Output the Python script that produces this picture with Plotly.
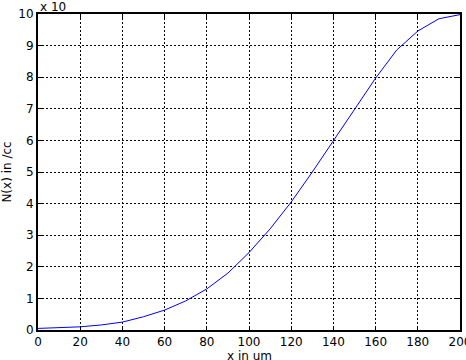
import plotly.graph_objects as go

x_um = [0, 10, 20, 30, 40, 50, 60, 70, 80, 90, 100, 110, 120, 130, 140, 150, 160, 170, 180, 190, 200]
n_x = [0.05, 0.07, 0.1, 0.16, 0.25, 0.42, 0.63, 0.92, 1.3, 1.8, 2.45, 3.2, 4.05, 5.0, 6.0, 7.0, 7.97, 8.86, 9.46, 9.85, 9.98]
x_ticks = [0, 20, 40, 60, 80, 100, 120, 140, 160, 180, 200]
y_ticks = [0, 1, 2, 3, 4, 5, 6, 7, 8, 9, 10]

fig = go.Figure()
fig.add_trace(go.Scatter(x=x_um, y=n_x, mode="lines",
                         line=dict(color="#0000ff", width=1), showlegend=False))

axis_common = dict(
    showline=True, linecolor="black", linewidth=2, mirror="allticks",
    ticks="inside", ticklen=4, tickcolor="black", tickwidth=1,
    showgrid=True, gridcolor="black", griddash="2px,2px", gridwidth=1,
    zeroline=False, tickfont=dict(family="DejaVu Sans", size=12, color="black"),
    automargin=False, ticklabeloverflow="allow",
)
fig.update_xaxes(range=[0, 200], tickvals=x_ticks, **axis_common)
fig.update_yaxes(range=[0, 10], tickvals=y_ticks, **axis_common,
                 title=dict(text="N(x) in /cc", font=dict(family="DejaVu Sans", size=12, color="black"), standoff=6))

fig.add_annotation(text="x in um", x=0.5, y=0, xref="paper", yref="paper",
                   xanchor="center", yanchor="top", yshift=-17, showarrow=False,
                   font=dict(family="DejaVu Sans", size=12, color="black"))
fig.add_annotation(text="x 10", x=0, y=1, xref="paper", yref="paper",
                   xanchor="left", yanchor="bottom", yshift=-2, showarrow=False,
                   font=dict(family="DejaVu Sans", size=12, color="black"))

fig.update_layout(width=466, height=360, margin=dict(l=38, r=6, t=14, b=30),
                  plot_bgcolor="white", paper_bgcolor="white")
fig.write_html("out.html")
